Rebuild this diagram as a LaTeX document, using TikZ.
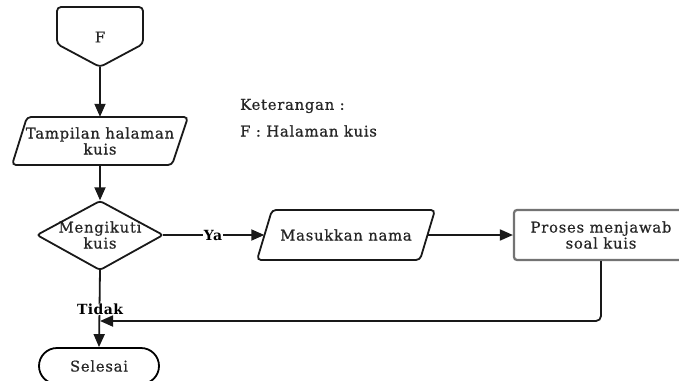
\documentclass[tikz,border=0pt]{standalone}
\usepackage{fontspec}
\setmainfont{DejaVu Serif}
\usetikzlibrary{arrows.meta,shapes.misc}
\begin{document}
\begin{tikzpicture}[x=1pt,y=-1pt,
  ln/.style={line width=1.8pt,draw=black!90},
  arr/.style={ln,-{Triangle[length=13pt,width=11pt]}},
  txt/.style={font=\fontsize{14.8}{16}\selectfont\addfontfeatures{LetterSpace=5,FakeBold=0.6},align=center,inner sep=0pt,text=black!85},
  hid/.style={txt,draw=none},
  lbl/.style={font=\fontsize{14}{15}\selectfont\bfseries\addfontfeatures{LetterSpace=3},fill=white,inner sep=1pt}
]
\useasboundingbox (0,0) rectangle (679,380);
\clip (0,0) rectangle (679,380);
\fill[white] (0,0) rectangle (679,380);

% F connector
\node[hid,minimum width=86pt,minimum height=60pt] (F) at (100,37) {F};
\draw[ln,rounded corners=4pt] (57,44) -- (57,7) -- (143,7) -- (143,44) -- (100,67) -- cycle;

% Tampilan halaman kuis
\node[hid,minimum width=161pt,minimum height=48pt] (tamp) at (100,141) {Tampilan halaman\\kuis};
\draw[ln,rounded corners=4pt] (12,165) -- (27,117) -- (188,117) -- (172,165) -- cycle;

% Diamond
\node[hid,minimum width=126pt,minimum height=69pt] (dia) at (100,235) {Mengikuti\\kuis};
\draw[ln,rounded corners=3pt] (37,235) -- (100,201) -- (163,235) -- (100,270) -- cycle;

% Masukkan nama
\node[hid,minimum width=163pt,minimum height=50pt] (mas) at (346,235) {Masukkan nama};
\draw[ln,rounded corners=4pt] (257,260) -- (272,210) -- (435,210) -- (420,260) -- cycle;

% Proses
\node[txt,draw=black!55,line width=2.2pt,rounded corners=3pt,minimum width=174pt,minimum height=50pt] (proc) at (601,235) {Proses menjawab\\soal kuis};

% Selesai
\node[txt,draw=black,line width=1.8pt,rounded rectangle,minimum width=120pt,minimum height=36pt] (sel) at (99,366) {Selesai};

% Legend
\node[txt,anchor=west] (ket) at (240,106) {Keterangan :};
\node[txt,anchor=west] (leg) at (240,131) {F : Halaman kuis};

% connectors
\draw[arr] (F.south) -- (tamp.north);
\draw[arr] (tamp.south) -- (dia.north);
\node[lbl] (ya) at (213,235) {Ya};
\draw[ln] (dia.east) -- (ya.west);
\draw[arr] (ya.east) -- (mas.west);
\draw[arr] (mas.east) -- (proc.west);
\draw[arr] (dia.south) -- (sel.north);
\node[lbl] (tidak) at (100,309) {Tidak};
\coordinate (m) at (100,321);
\draw[arr,rounded corners=5pt] (proc.south) |- (m);
\end{tikzpicture}
\end{document}
